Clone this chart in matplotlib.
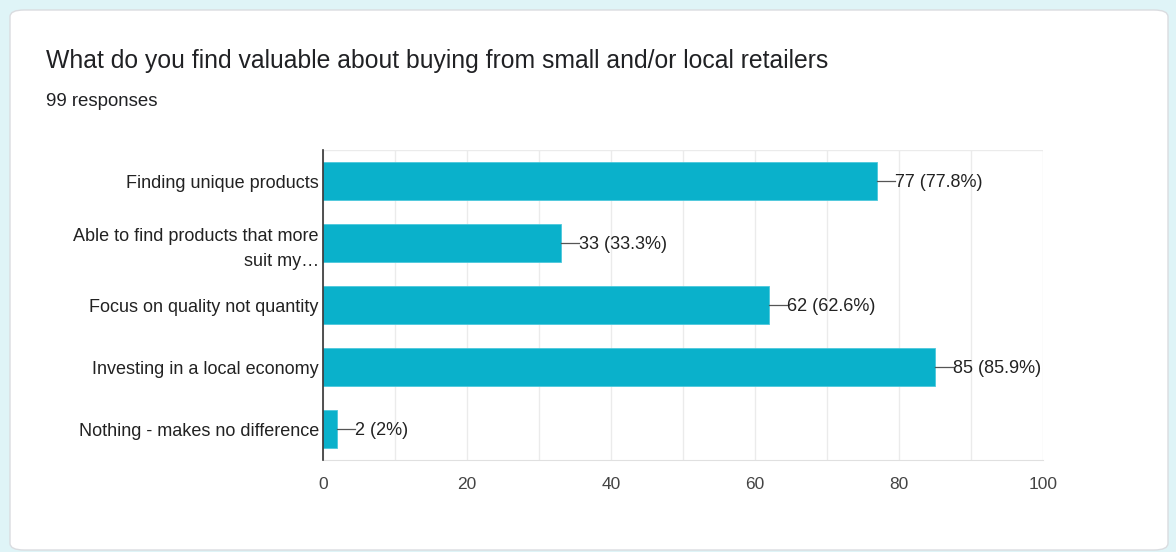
import matplotlib.pyplot as plt
from matplotlib.patches import FancyBboxPatch

TITLE = "What do you find valuable about buying from small and/or local retailers"
SUBTITLE = "99 responses"

categories = [
    "Finding unique products",
    "Able to find products that more\nsuit my\u2026",
    "Focus on quality not quantity",
    "Investing in a local economy",
    "Nothing - makes no difference",
]
counts = [77, 33, 62, 85, 2]
percents = ["77.8%", "33.3%", "62.6%", "85.9%", "2%"]
x_ticks = [0, 20, 40, 60, 80, 100]

BAR_COLOR = "#0ab1cb"
TEXT_COLOR = "#222222"
TICK_COLOR = "#444444"
GRID_COLOR = "#ebebeb"
FONT = "Liberation Sans"

W, H = 1176, 552
fig = plt.figure(figsize=(W / 100, H / 100), dpi=100)
fig.patch.set_facecolor("#dff4f7")

# white card with rounded corners, kept behind the axes
card = FancyBboxPatch(
    (10 / W, 2 / H), 1158 / W, 540 / H,
    boxstyle="round,pad=0,rounding_size=0.012",
    transform=fig.transFigure, facecolor="white",
    edgecolor="#dadce0", linewidth=1.0, zorder=-5,
)
fig.patches.append(card)

fig.text(46 / W, 1 - 61 / H, TITLE, fontsize=17.8, family=FONT,
         color="#202124", va="center", ha="left")
fig.text(46 / W, 1 - 102 / H, SUBTITLE, fontsize=13.4, family=FONT,
         color="#202124", va="center", ha="left")

ax = fig.add_axes([323 / W, (H - 460) / H, 720 / W, 310 / H])
ax.set_facecolor("none")
ax.set_zorder(2)

ypos = list(range(len(categories)))
ax.barh(ypos, counts, height=0.61, color=BAR_COLOR,
        edgecolor="#4cc8dc", linewidth=0.6, zorder=3)

for y, c, p in zip(ypos, counts, percents):
    ax.plot([c, c + 2.5], [y, y], color="#555555", linewidth=0.9, zorder=4)
    ax.text(c + 2.5, y + 0.03, f"{c} ({p})", va="center", ha="left",
            fontsize=13, family=FONT, color=TEXT_COLOR, zorder=5)

ax.set_xlim(0, 100)
ax.set_ylim(len(categories) - 0.5, -0.5)
ax.set_xticks(x_ticks)
ax.set_xticks(range(10, 100, 20), minor=True)
ax.grid(axis="x", which="both", color=GRID_COLOR, linewidth=1.0, zorder=0)
ax.axhline(-0.5, color=GRID_COLOR, linewidth=1.0, zorder=0)

ax.set_yticks(ypos)
ax.set_yticklabels(categories, fontsize=13, family=FONT,
                   color=TEXT_COLOR, linespacing=1.6)
for lbl in ax.get_xticklabels():
    lbl.set_fontsize(12.5)
    lbl.set_family(FONT)
    lbl.set_color(TICK_COLOR)

ax.tick_params(axis="both", which="both", length=0)
ax.tick_params(axis="x", pad=12)
ax.tick_params(axis="y", pad=3)

for side in ["top", "right"]:
    ax.spines[side].set_visible(False)
ax.spines["left"].set_color("#333333")
ax.spines["left"].set_linewidth(1.2)
ax.spines["left"].set_zorder(6)
ax.spines["bottom"].set_color("#e0e0e0")

fig.savefig("out.png", dpi=100)
